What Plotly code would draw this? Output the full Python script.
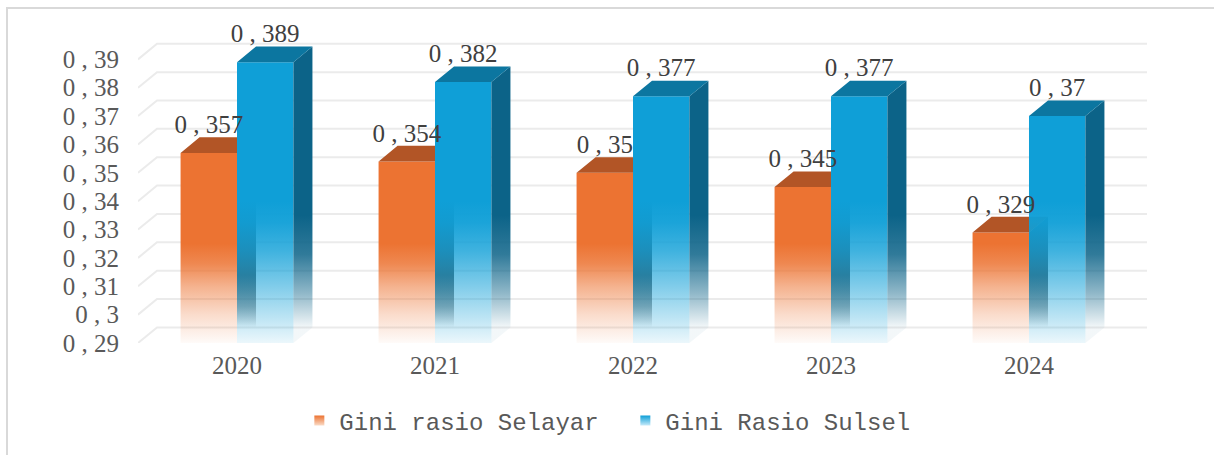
import plotly.graph_objects as go

# Gini ratio by year: Kepulauan Selayar vs Sulawesi Selatan
years = ["2020", "2021", "2022", "2023", "2024"]
gini_selayar = [0.357, 0.354, 0.35, 0.345, 0.329]
gini_sulsel = [0.389, 0.382, 0.377, 0.377, 0.37]
y_ticks = [0.29, 0.30, 0.31, 0.32, 0.33, 0.34, 0.35, 0.36, 0.37, 0.38, 0.39]

# geometry of the pseudo-3D columns (axis units)
Y_BASE = 0.29
Y_TOP = 0.40
BAR_W = 0.285
DEPTH_X = 0.096
DEPTH_Y = 0.0055
LABEL_DROP = 0.0007

ORANGE = (236, 115, 50)
ORANGE_TOP = "rgb(178,85,38)"
BLUE = (15, 159, 215)
BLUE_TOP = "rgb(12,118,160)"
BLUE_SIDE = (12, 99, 136)
SHADOW = (80, 78, 76)

SERIF = "Liberation Serif, Times New Roman, serif"
MONO = "Liberation Mono, Courier New, monospace"
GREY = "#595959"


def fmt(v):
    return f"{v:g}".replace(".", " , ")


def rgba(c, a):
    return f"rgba({c[0]},{c[1]},{c[2]},{a})"


def column_faces(values, offset):
    fx, fy, tx, ty, sx, sy = [], [], [], [], [], []
    for i, v in enumerate(values):
        x0 = i + offset
        x1 = x0 + BAR_W
        fx += [x0, x1, x1, x0, x0, None]
        fy += [Y_BASE, Y_BASE, v, v, Y_BASE, None]
        tx += [x0, x1, x1 + DEPTH_X, x0 + DEPTH_X, x0, None]
        ty += [v, v, v + DEPTH_Y, v + DEPTH_Y, v, None]
        sx += [x1, x1 + DEPTH_X, x1 + DEPTH_X, x1, x1, None]
        sy += [Y_BASE, Y_BASE + DEPTH_Y, v + DEPTH_Y, v, Y_BASE, None]
    return (fx, fy), (tx, ty), (sx, sy)


def face_trace(xy, **kw):
    return go.Scatter(x=xy[0], y=xy[1], mode="none", fill="toself",
                      hoverinfo="skip", showlegend=False, **kw)


fig = go.Figure()

# floor diagonals and back-wall gridlines
gx, gy = [], []
for v in y_ticks:
    gx += [-0.5, -0.5 + DEPTH_X, 4.5 + DEPTH_X, None]
    gy += [v, v + DEPTH_Y, v + DEPTH_Y, None]
fig.add_trace(go.Scatter(x=gx, y=gy, mode="lines", line=dict(color="#ebebeb", width=2),
                         hoverinfo="skip", showlegend=False))

o_front, o_top, o_side = column_faces(gini_selayar, -BAR_W)
b_front, b_top, b_side = column_faces(gini_sulsel, 0.0)

# Selayar columns
fig.add_trace(face_trace(o_side, fillgradient=dict(
    type="vertical", start=Y_BASE + DEPTH_Y, stop=0.314,
    colorscale=[[0, rgba(SHADOW, 0)], [0.4, rgba(SHADOW, 0.5)], [1, rgba(SHADOW, 1)]])))
fig.add_trace(face_trace(o_front, fillgradient=dict(
    type="vertical", start=Y_BASE, stop=0.325,
    colorscale=[[0, rgba(ORANGE, 0.03)], [0.286, rgba(ORANGE, 0.25)],
                [0.571, rgba(ORANGE, 0.55)], [0.8, rgba(ORANGE, 0.85)], [1, rgba(ORANGE, 1)]])))
fig.add_trace(face_trace(o_top, fillcolor=ORANGE_TOP))

# Sulsel columns
fig.add_trace(face_trace(b_front, fillgradient=dict(
    type="vertical", start=Y_BASE, stop=0.34,
    colorscale=[[0, rgba(BLUE, 0.08)], [0.2, rgba(BLUE, 0.3)], [0.42, rgba(BLUE, 0.55)],
                [0.65, rgba(BLUE, 0.8)], [0.85, rgba(BLUE, 0.95)], [1, rgba(BLUE, 1)]])))
fig.add_trace(face_trace(b_side, fillgradient=dict(
    type="vertical", start=Y_BASE + DEPTH_Y, stop=0.335,
    colorscale=[[0, rgba(BLUE_SIDE, 0.05)], [0.3, rgba(BLUE_SIDE, 0.45)],
                [0.65, rgba(BLUE_SIDE, 0.85)], [1, rgba(BLUE_SIDE, 1)]])))
fig.add_trace(face_trace(b_top, fillcolor=BLUE_TOP))

# value labels
for values, offset in ((gini_selayar, -BAR_W), (gini_sulsel, 0.0)):
    fig.add_trace(go.Scatter(
        x=[i + offset + BAR_W / 2 for i in range(len(values))],
        y=[v + DEPTH_Y - LABEL_DROP for v in values],
        text=[fmt(v) for v in values],
        mode="text", textposition="top center",
        textfont=dict(family=SERIF, size=25, color="#404040"),
        cliponaxis=False, hoverinfo="skip", showlegend=False))

# legend entries
fig.add_trace(go.Scatter(x=[None], y=[None], mode="markers", name="Gini rasio Selayar",
                         marker=dict(symbol="square", size=10, color=rgba(ORANGE, 1),
                                     gradient=dict(type="vertical", color="rgb(250,220,200)"))))
fig.add_trace(go.Scatter(x=[None], y=[None], mode="markers", name="Gini Rasio Sulsel",
                         marker=dict(symbol="square", size=10, color=rgba(BLUE, 1),
                                     gradient=dict(type="vertical", color="rgb(200,235,250)"))))

fig.update_layout(
    width=1214, height=455,
    margin=dict(l=138, r=67, t=31, b=112),
    paper_bgcolor="white", plot_bgcolor="white",
    showlegend=True,
    legend=dict(orientation="h", x=0.483, xanchor="center", y=-0.25, yanchor="middle",
                entrywidth=281, entrywidthmode="pixels", itemwidth=30,
                font=dict(family=MONO, size=24, color=GREY), bgcolor="rgba(0,0,0,0)"),
    xaxis=dict(range=[-0.5, 4.5 + DEPTH_X], tickvals=list(range(len(years))), ticktext=years,
               showgrid=False, zeroline=False, showline=False, ticks="",
               tickfont=dict(family=SERIF, size=25, color=GREY), ticklabelstandoff=5,
               fixedrange=True),
    yaxis=dict(range=[Y_BASE, Y_TOP], tickvals=y_ticks, ticktext=[fmt(v) for v in y_ticks],
               showgrid=False, zeroline=False, showline=False, ticks="",
               tickfont=dict(family=SERIF, size=25, color=GREY), ticklabelstandoff=18,
               fixedrange=True),
    shapes=[dict(type="rect", xref="paper", yref="paper",
                 x0=(7 - 138) / 1009, x1=1.2, y0=-0.6, y1=(343 - 8) / 312,
                 line=dict(color="#d9d9d9", width=2), layer="below")],
)

fig.write_html("out.html")
